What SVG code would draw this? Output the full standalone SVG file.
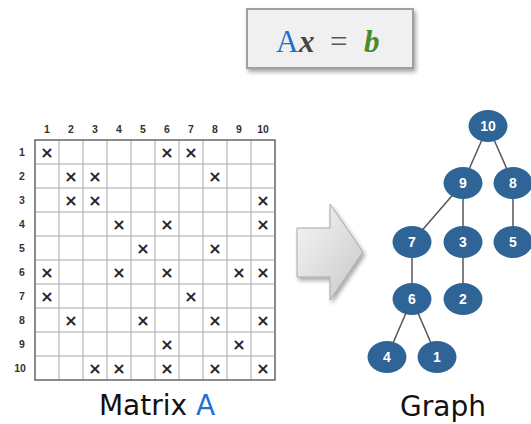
<svg xmlns="http://www.w3.org/2000/svg" width="531" height="424" viewBox="0 0 531 424">
<defs>
<linearGradient id="ag" x1="0" y1="0" x2="1" y2="1">
<stop offset="0" stop-color="#f7f7f7"/>
<stop offset="1" stop-color="#c8c8c8"/>
</linearGradient>
<filter id="sh" x="-20%" y="-20%" width="150%" height="150%">
<feGaussianBlur in="SourceAlpha" stdDeviation="2"/>
<feOffset dx="2" dy="3"/>
<feComponentTransfer><feFuncA type="linear" slope="0.35"/></feComponentTransfer>
<feMerge><feMergeNode/><feMergeNode in="SourceGraphic"/></feMerge>
</filter>
</defs>
<style>
.lbl{font-family:"Liberation Sans",Arial,sans-serif;font-weight:bold;font-size:10.5px;fill:#333;text-anchor:middle}
.x{font-family:"DejaVu Sans",sans-serif;font-weight:bold;font-size:16px;fill:#222;text-anchor:middle}
.in{stroke:#a8a8a8;stroke-width:1}
.nd{fill:#2f6496}
.nt{font-family:"Liberation Sans",Arial,sans-serif;font-weight:bold;font-size:14px;fill:#fff;text-anchor:middle}
.ed{stroke:#555;stroke-width:1.5;fill:none}
.cap{font-family:"DejaVu Sans",Verdana,sans-serif;font-size:28px;fill:#111;text-anchor:middle}
</style>
<rect width="531" height="424" fill="#fff"/>

<g id="equation">
<rect x="247" y="9" width="166" height="59" fill="#f0f0f0" stroke="#a0a0a0" stroke-width="2" filter="url(#sh)"/>
<text y="52" font-family="Liberation Serif,serif" font-size="31px"><tspan x="276" fill="#1f6fd0">A</tspan><tspan x="299" fill="#444" font-style="italic" font-weight="bold">x</tspan><tspan x="330" fill="#555">=</tspan><tspan x="364" fill="#4a8a2a" font-style="italic" font-weight="bold">b</tspan></text>
</g>

<g id="matrix">
<g class="in">
<line x1="59" y1="140" x2="59" y2="380"/><line x1="83" y1="140" x2="83" y2="380"/><line x1="107" y1="140" x2="107" y2="380"/><line x1="131" y1="140" x2="131" y2="380"/><line x1="155" y1="140" x2="155" y2="380"/><line x1="179" y1="140" x2="179" y2="380"/><line x1="203" y1="140" x2="203" y2="380"/><line x1="227" y1="140" x2="227" y2="380"/><line x1="251" y1="140" x2="251" y2="380"/>
<line x1="35" y1="164" x2="275" y2="164"/><line x1="35" y1="188" x2="275" y2="188"/><line x1="35" y1="212" x2="275" y2="212"/><line x1="35" y1="236" x2="275" y2="236"/><line x1="35" y1="260" x2="275" y2="260"/><line x1="35" y1="284" x2="275" y2="284"/><line x1="35" y1="308" x2="275" y2="308"/><line x1="35" y1="332" x2="275" y2="332"/><line x1="35" y1="356" x2="275" y2="356"/>
</g>
<rect x="35" y="140" width="240" height="240" fill="none" stroke="#666" stroke-width="1.5"/>
<g class="lbl">
<text x="47" y="133">1</text><text x="71" y="133">2</text><text x="95" y="133">3</text><text x="119" y="133">4</text><text x="143" y="133">5</text><text x="167" y="133">6</text><text x="191" y="133">7</text><text x="215" y="133">8</text><text x="239" y="133">9</text><text x="263" y="133">10</text>
<text x="22" y="156">1</text><text x="22" y="180">2</text><text x="22" y="204">3</text><text x="22" y="228">4</text><text x="22" y="252">5</text><text x="22" y="276">6</text><text x="22" y="300">7</text><text x="22" y="324">8</text><text x="22" y="348">9</text><text x="20" y="372">10</text>
</g>
<g class="x">
<text x="47" y="158">×</text><text x="167" y="158">×</text><text x="191" y="158">×</text>
<text x="71" y="182">×</text><text x="95" y="182">×</text><text x="215" y="182">×</text>
<text x="71" y="206">×</text><text x="95" y="206">×</text><text x="263" y="206">×</text>
<text x="119" y="230">×</text><text x="167" y="230">×</text><text x="263" y="230">×</text>
<text x="143" y="254">×</text><text x="215" y="254">×</text>
<text x="47" y="278">×</text><text x="119" y="278">×</text><text x="167" y="278">×</text><text x="239" y="278">×</text><text x="263" y="278">×</text>
<text x="47" y="302">×</text><text x="191" y="302">×</text>
<text x="71" y="326">×</text><text x="143" y="326">×</text><text x="215" y="326">×</text><text x="263" y="326">×</text>
<text x="167" y="350">×</text><text x="239" y="350">×</text>
<text x="95" y="374">×</text><text x="119" y="374">×</text><text x="167" y="374">×</text><text x="215" y="374">×</text><text x="263" y="374">×</text>
</g>
<text class="cap" x="157" y="415">Matrix <tspan fill="#1f6fd0">A</tspan></text>
</g>

<g id="arrow">
<polygon points="297,228 330,228 330,204 363,252 330,300 330,277 297,277" fill="url(#ag)" stroke="#a8a8a8" stroke-width="1" filter="url(#sh)"/>
</g>

<g id="connectors">
<line class="ed" x1="488" y1="126" x2="463" y2="183"/>
<line class="ed" x1="488" y1="126" x2="513" y2="183"/>
<line class="ed" x1="463" y1="183" x2="412" y2="242"/>
<line class="ed" x1="463" y1="183" x2="463" y2="242"/>
<line class="ed" x1="513" y1="183" x2="513" y2="242"/>
<line class="ed" x1="412" y1="242" x2="412" y2="299"/>
<line class="ed" x1="463" y1="242" x2="463" y2="299"/>
<line class="ed" x1="412" y1="299" x2="387" y2="357"/>
<line class="ed" x1="412" y1="299" x2="437" y2="357"/>
</g>

<g id="n10"><ellipse class="nd" cx="488" cy="126" rx="19.5" ry="16"/><text class="nt" x="488" y="131">10</text></g>
<g id="n9"><ellipse class="nd" cx="463" cy="183" rx="19.5" ry="16"/><text class="nt" x="463" y="188">9</text></g>
<g id="n8"><ellipse class="nd" cx="513" cy="183" rx="19.5" ry="16"/><text class="nt" x="513" y="188">8</text></g>
<g id="n7"><ellipse class="nd" cx="412" cy="242" rx="19.5" ry="16"/><text class="nt" x="412" y="247">7</text></g>
<g id="n3"><ellipse class="nd" cx="463" cy="242" rx="19.5" ry="16"/><text class="nt" x="463" y="247">3</text></g>
<g id="n5"><ellipse class="nd" cx="513" cy="242" rx="19.5" ry="16"/><text class="nt" x="513" y="247">5</text></g>
<g id="n6"><ellipse class="nd" cx="412" cy="299" rx="19.5" ry="16"/><text class="nt" x="412" y="304">6</text></g>
<g id="n2"><ellipse class="nd" cx="463" cy="299" rx="19.5" ry="16"/><text class="nt" x="463" y="304">2</text></g>
<g id="n4"><ellipse class="nd" cx="387" cy="357" rx="19.5" ry="16"/><text class="nt" x="387" y="362">4</text></g>
<g id="n1"><ellipse class="nd" cx="437" cy="357" rx="19.5" ry="16"/><text class="nt" x="437" y="362">1</text></g>

<text class="cap" x="443" y="416">Graph</text>
</svg>
